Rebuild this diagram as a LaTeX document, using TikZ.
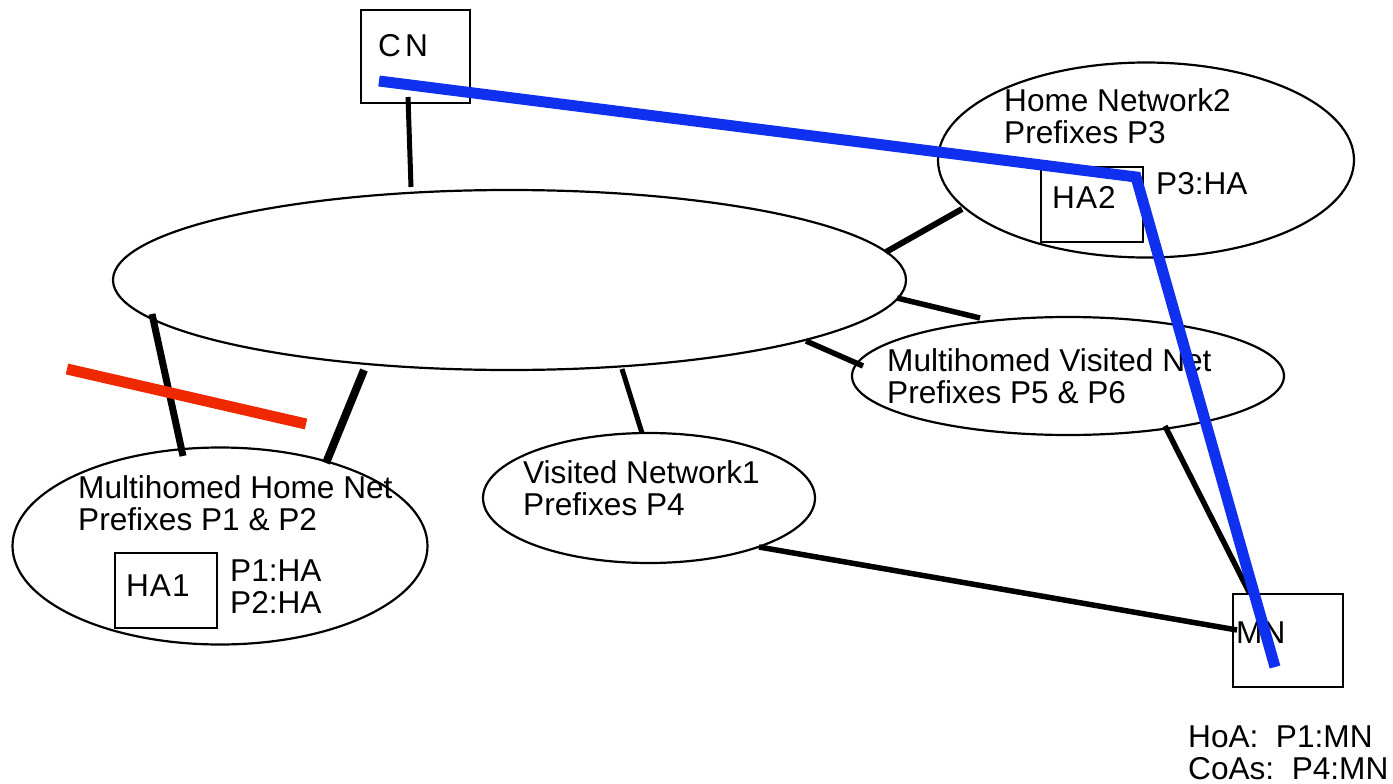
\documentclass[tikz,border=0pt]{standalone}
\usepackage{fontspec}
\setmainfont{Liberation Sans}
\usetikzlibrary{shapes.geometric}
\definecolor{pathblue}{RGB}{16,48,240}
\definecolor{cutred}{RGB}{240,40,0}
\begin{document}
\begin{tikzpicture}[x=1pt,y=-1pt,
  net/.style={ellipse,draw,line width=2.2pt,inner sep=0pt},
  boxn/.style={draw,line width=2.2pt,inner sep=0pt},
  lbl/.style={anchor=base west,inner sep=0pt,align=left,font=\fontsize{31.6}{32}\selectfont},
  link/.style={line width=#1,line cap=butt},
  link/.default=5pt]
\useasboundingbox (0,0) rectangle (1393,784);
% networks
\node[net,minimum width=793,minimum height=180] (core) at (509.5,280) {};
\node[net,minimum width=416,minimum height=195] (hn2) at (1146,160) {};
\node[net,minimum width=432,minimum height=118] (mvn) at (1068,376) {};
\node[net,minimum width=332,minimum height=130] (vn1) at (649,498) {};
\node[net,minimum width=415,minimum height=197] (mhn) at (220,546) {};
% boxes
\node[boxn,minimum width=109,minimum height=93] (cn) at (415.5,56.5) {};
\node[boxn,minimum width=102,minimum height=75] (ha2) at (1092,204.5) {};
\node[boxn,minimum width=102,minimum height=75] (ha1) at (166,590.5) {};
\node[boxn,minimum width=110,minimum height=93] (mn) at (1288,640.5) {};
% texts (base = baseline of last line)
\node[lbl] (cnt) at (378,57) {C\kern4pt N};
\node[lbl] (hn2t) at (1004,143) {Home Network2\\Prefixes P3};
\node[lbl] (ha2t) at (1052,208) {H\kern1pt A\kern1pt 2};
\node[lbl] (p3t) at (1156,194) {P3:HA};
\node[lbl] (mvnt) at (887,403) {Multihomed Visited Net\\Prefixes P5 \& P6};
\node[lbl] (vn1t) at (523,515) {Visited Network1\\Prefixes P4};
\node[lbl] (mhnt) at (78,530) {Multihomed Home Net\\Prefixes P1 \& P2};
\node[lbl] (ha1t) at (126,596) {H\kern1pt A\kern1pt 1};
\node[lbl] (p12t) at (230,613) {P1:HA\\P2:HA};
\node[lbl] (mnt) at (1236,643) {MN};
\node[lbl] (addr) at (1188,779) {HoA:\ \ P1:MN\\CoAs:\ \ P4:MN};
% connector end points
\coordinate (cnA) at (408,97);   \coordinate (coreA) at (411,187);
\coordinate (coreB) at (886,252); \coordinate (hn2A) at (962,209);
\coordinate (coreC) at (897,298); \coordinate (mvnA) at (980,318);
\coordinate (coreD) at (806,341); \coordinate (mvnB) at (863,366);
\coordinate (coreE) at (622,369); \coordinate (vn1A) at (642,433);
\coordinate (coreF) at (152,314); \coordinate (mhnA) at (183,456);
\coordinate (coreG) at (364,370); \coordinate (mhnB) at (326,463);
\coordinate (vn1B) at (759,547); \coordinate (mnA) at (1237,630);
\coordinate (mvnC) at (1165,426); \coordinate (mnB) at (1249,592);
\coordinate (cnB) at (379,81); \coordinate (ha2A) at (1136,177); \coordinate (mnC) at (1275,667);
\coordinate (cutA) at (67,369); \coordinate (cutB) at (306,424);
% links
\draw[link=5pt] (cnA) -- (coreA);
\draw[link=6pt] (coreB) -- (hn2A);
\draw[link=5.5pt] (coreC) -- (mvnA);
\draw[link=5.5pt] (coreD) -- (mvnB);
\draw[link=5pt] (coreE) -- (vn1A);
\draw[link=7pt] (coreF) -- (mhnA);
\draw[link=8pt] (coreG) -- (mhnB);
\draw[link=5.5pt] (vn1B) -- (mnA);
\draw[link=5.5pt] (mvnC) -- (mnB);
% path and cut
\draw[pathblue,line width=11pt] (cnB) -- (ha2A) -- (mnC);
\draw[cutred,line width=11pt] (cutA) -- (cutB);
\end{tikzpicture}
\end{document}
